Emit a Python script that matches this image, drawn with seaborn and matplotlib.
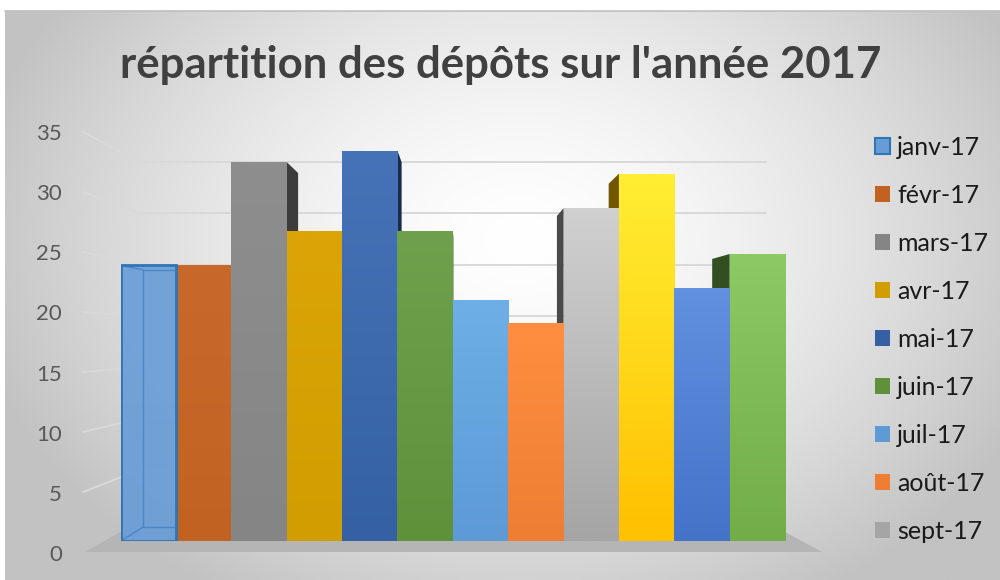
import numpy as np
import pandas as pd
import matplotlib
matplotlib.use("Agg")
import matplotlib.pyplot as plt
import seaborn as sns
from matplotlib.patches import Patch, Polygon
from matplotlib.colors import to_rgb

# data
months = ['janv-17', 'févr-17', 'mars-17', 'avr-17', 'mai-17', 'juin-17',
          'juil-17', 'août-17', 'sept-17', 'oct-17', 'nov-17', 'déc-17']
depots = [24, 24, 33, 27, 34, 27, 21, 19, 29, 32, 22, 25]
yticks = list(range(0, 36, 5))
n_legend = 9  # the legend in the original is cut after sept-17

# bar colours (gradient top -> bottom)
top_colors = ['#6A9ED8', '#C8682B', '#8E8E8E', '#DBA507', '#4673B7', '#6FA04D',
              '#6DAFE6', '#FF8E40', '#D0D0D0', '#FFEE33', '#6190E0', '#8DCA63']
bottom_colors = ['#689CD6', '#C26222', '#858585', '#D19D00', '#3560A4', '#5F903A',
                 '#5D9AD6', '#EE7E33', '#A5A5A5', '#FFC000', '#4573C8', '#72AD48']
janv_edge = '#2E75B6'

sns.set_theme(style="white")
plt.rcParams['font.family'] = ['Lato', 'DejaVu Sans']

W, H = 1000, 580
fig = plt.figure(figsize=(W / 100, H / 100), dpi=100)

# ---- background (pixel coords) ----
bg = fig.add_axes([0, 0, 1, 1])
bg.set_xlim(0, W)
bg.set_ylim(H, 0)
bg.axis('off')

xx, yy = np.meshgrid(np.linspace(5, W, 400), np.linspace(11, H, 240))
r = np.sqrt(((xx - 520) / 560) ** 2 + ((yy - 240) / 420) ** 2)
t = np.clip(r, 0, 1) ** 1.5
gray = np.array(to_rgb('#C2C2C2'))
img = (1 - t)[..., None] * np.ones(3) + t[..., None] * gray
bg.imshow(img, extent=(5, W, H, 11), aspect='auto', zorder=0)
bg.plot([5, W], [11, 11], color='#BFBFBF', lw=1.2, zorder=1)

# floor
bg.add_patch(Polygon([(85, 552), (120, 532), (785, 532), (822, 552)],
                     closed=True, facecolor='#B5B5B5', edgecolor='none', zorder=1))

# walls gridlines
for v in yticks[1:]:
    yb = 521 - 10.26 * v
    yf = 552 - 12.0 * v
    bg.plot([140, 766], [yb, yb], color='#D9D9D9', lw=1.4, zorder=1)
    bg.plot([83, 140], [yf, yb], color='#D9D9D9', lw=1.4, zorder=1)

bg.text(501, 78, "répartition des dépôts sur l'année 2017", ha='center',
        va='baseline', fontsize=31.5, fontweight='bold', color='#404040')

# ---- y axis labels (side wall) ----
ax_wall = fig.add_axes([83 / W, (H - 553) / H, 57 / W, (553 - 132) / H])
ax_wall.set_facecolor('none')
ax_wall.set_ylim(0, 35)
ax_wall.set_xticks([])
ax_wall.set_yticks(yticks)
ax_wall.tick_params(axis='y', length=0, pad=15, labelsize=16, labelcolor='#595959')
for s in ax_wall.spines.values():
    s.set_visible(False)

# ---- bars ----
ax = fig.add_axes([120.7 / W, (H - 541) / H, 664.3 / W, 401.8 / H])
ax.set_facecolor('none')

df = pd.DataFrame({'mois': months, 'depots': depots})
sns.barplot(data=df, x='mois', y='depots', hue='mois', palette=bottom_colors,
            width=1.0, saturation=1, linewidth=0, legend=False, ax=ax)

# perspective used for the fake 3D sides
vx, vy, dep = 5.65, 18.4, 0.065

for i, (p, ct, cb) in enumerate(zip(ax.patches, top_colors, bottom_colors)):
    x0, w, h = p.get_x(), p.get_width(), p.get_height()
    x1 = x0 + w
    # visible side face
    xe = None
    if x1 < vx:
        xe = x1
    elif x0 > vx:
        xe = x0
    if xe is not None:
        xb = xe + dep * (vx - xe)
        side = np.array(to_rgb(cb)) * 0.45
        ax.add_patch(Polygon([(xe, 0), (xe, h), (xb, h + dep * (vy - h)), (xb, dep * vy)],
                             closed=True, facecolor=side, edgecolor='none', zorder=2))
    # vertical gradient on the front face
    g = np.linspace(0, 1, 64)[:, None, None]
    grad = (1 - g) * np.array(to_rgb(cb)) + g * np.array(to_rgb(ct))
    im = ax.imshow(grad, extent=(x0, x1, 0, h), origin='lower', aspect='auto',
                   zorder=3, interpolation='bilinear', alpha=0.92 if i == 0 else 1)
    im.set_clip_path(p)

# janv is drawn as a see-through box
p0 = ax.patches[0]
x0, h0 = p0.get_x(), p0.get_height()
xb = x0 + dep * (vx - x0)
tb, bb = h0 + dep * (vy - h0), dep * vy
x1 = x0 + p0.get_width()
for xs, ys in [([xb, xb], [bb, tb]), ([xb, x1], [bb, bb]), ([xb, x1], [tb, tb]),
               ([x0, xb], [0, bb]), ([x0, xb], [h0, tb])]:
    ax.plot(xs, ys, color='#3F82C8', lw=1, alpha=0.8, zorder=3.5)
p0.set_facecolor('none')
p0.set_edgecolor(janv_edge)
p0.set_linewidth(2)
p0.set_zorder(4)

ax.set_xlim(-0.5, 11.5)
ax.set_ylim(0, 35)
ax.set_xticks([])
ax.set_yticks([])
ax.set_xlabel('')
ax.set_ylabel('')
for s in ax.spines.values():
    s.set_visible(False)

# ---- legend ----
handles = []
for i in range(n_legend):
    handles.append(Patch(facecolor=bottom_colors[i],
                         edgecolor=janv_edge if i == 0 else 'none',
                         linewidth=1.5 if i == 0 else 0, label=months[i]))
fig.legend(handles=handles, loc='upper left', bbox_to_anchor=(875 / W, 1 - 136 / H),
           frameon=False, fontsize=18, labelcolor='#1A1A1A', borderpad=0,
           borderaxespad=0, handlelength=0.6, handleheight=0.6,
           handletextpad=0.28, labelspacing=1.0)

fig.savefig("out.png", dpi=100)
